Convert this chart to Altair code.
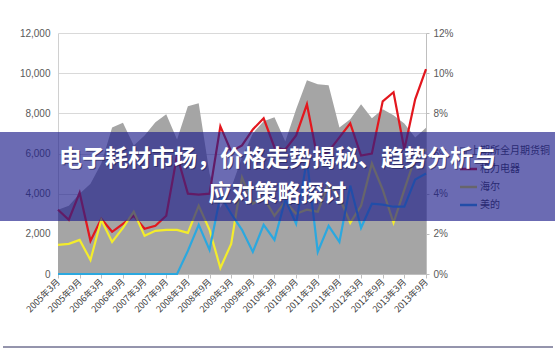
import altair as alt
import pandas as pd

# ---- data (quarterly) ----
quarters = [f"{y}年{m}月" for y in range(2005, 2014) for m in (3, 6, 9, 12)][:35]
axis_labels = [f"{y}年{m}月" for y in range(2005, 2014) for m in (3, 9)]

copper = [3200, 3400, 4000, 4500, 5500, 7300, 7530, 6400, 6900, 7550,
          7950, 6700, 8350, 8500, 5000, 3300, 4300, 5800, 7000, 7600,
          7800, 6600, 8200, 9650, 9450, 9400, 7300, 7700, 8450, 7750,
          8200, 7900, 7500, 6800, 7280]
gree = [3.2, 2.7, 4.05, 1.65, 2.75, 2.1, 2.5, 2.9, 2.25, 2.4,
        2.9, 5.9, 4.0, 3.95, 4.0, 7.35, 6.1, 6.4, 7.2, 7.75,
        6.3, 6.2, 6.9, 8.45, 5.7, 6.1, 6.8, 7.5, 5.9, 6.0,
        8.6, 9.05, 6.2, 8.7, 10.2]
haier = [1.45, 1.5, 1.7, 0.7, 2.7, 1.6, 2.3, 3.1, 1.9, 2.15,
         2.2, 2.2, 2.05, 3.4, 2.2, 0.3, 1.5, 4.8, 3.5, 3.8,
         2.9, 3.6, 3.0, 3.2, 3.1, 4.5, 3.8, 2.55, 3.4, 5.5,
         4.2, 2.55, 4.2, 5.8, 6.2]
midea = [0, 0, 0, 0, 0, 0, 0, 0, 0, 0,
         0, 0, 1.15, 2.45, 1.2, 3.9, 3.0, 2.2, 1.1, 2.45,
         1.7, 3.7, 2.5, 5.7, 1.1, 2.4, 1.6, 4.4, 2.3, 3.5,
         3.45, 3.35, 3.35, 4.7, 5.0]

series_names = ["上期所全月期货铜", "格力电器", "海尔", "美的"]
series_colors = ["#a5a5a5", "#e3171e", "#f3ec2c", "#2ba8df"]

title_lines = ["电子耗材市场，价格走势揭秘、趋势分析与", "应对策略探讨"]

# ---- tables ----
df = pd.DataFrame({"q": quarters, "copper": copper})
lines = pd.concat([
    pd.DataFrame({"q": quarters, "value": [v / 100 for v in vals], "series": name})
    for name, vals in zip(series_names[1:], [gree, haier, midea])
])

W, H = 368, 241
xenc = alt.X("q:O", sort=quarters,
             scale=alt.Scale(type="point", padding=0),
             axis=alt.Axis(values=axis_labels, title=None, labelAngle=-45,
                           labelAlign="right", labelBaseline="middle",
                           labelFontSize=9, labelColor="#404040", labelFont="Noto Sans CJK SC",
                           labelPadding=2, tickSize=4, tickColor="#bfbfbf",
                           domainColor="#bfbfbf", grid=False, zindex=0))

area = alt.Chart(df).mark_area(color="#a5a5a5", opacity=1).encode(
    x=xenc,
    y=alt.Y("copper:Q", scale=alt.Scale(domain=[0, 12000], nice=False),
            axis=alt.Axis(values=[0, 2000, 4000, 6000, 8000, 10000, 12000], format=",.0f",
                          title=None, orient="left", labelFontSize=10, labelColor="#595959",
                          labelFont="Liberation Sans", ticks=False, labelPadding=8,
                          domainColor="#d0d0d0", gridColor="#d9d9d9", grid=True, zindex=0)),
)

line = alt.Chart(lines).mark_line(strokeWidth=2.2).encode(
    x=xenc,
    y=alt.Y("value:Q", scale=alt.Scale(domain=[0, 0.12], nice=False),
            axis=alt.Axis(values=[0, 0.02, 0.04, 0.06, 0.08, 0.10, 0.12], format=".0%",
                          title=None, orient="right", labelFontSize=10, labelColor="#595959",
                          labelFont="Liberation Sans", tickSize=3, tickColor="#bfbfbf",
                          domainColor="#bfbfbf", grid=False, labelPadding=4, zindex=0)),
    color=alt.Color("series:N", scale=alt.Scale(domain=series_names, range=series_colors),
                    legend=None),
    order=alt.Order("series:N"),
)

one = pd.DataFrame({"a": [0]})

# manual legend (sits under the banner)
legend_layers = []
for k, (name, col) in enumerate(zip(series_names, series_colors)):
    yy = 118 + k * 18
    if k == 0:
        legend_layers.append(
            alt.Chart(one).mark_rect(color=col).encode(
                x=alt.value(402), x2=alt.value(409), y=alt.value(yy - 4), y2=alt.value(yy + 4)))
        tx = 412
    else:
        legend_layers.append(
            alt.Chart(one).mark_rule(color=col, strokeWidth=2.5).encode(
                x=alt.value(402), x2=alt.value(419), y=alt.value(yy)))
        tx = 422
    legend_layers.append(
        alt.Chart(one).mark_text(align="left", baseline="middle", fontSize=10,
                                 font="Noto Sans CJK SC", color="#404040").encode(
            x=alt.value(tx), y=alt.value(yy), text=alt.value(name)))

banner = alt.Chart(one).mark_rect(color="#1e1e8c", opacity=0.66).encode(
    x=alt.value(-58), x2=alt.value(497), y=alt.value(99), y2=alt.value(188))

title_layers = []
for k, t in enumerate(title_lines):
    yy = 126 + k * 35
    title_layers.append(
        alt.Chart(one).mark_text(align="center", baseline="middle", fontSize=23,
                                 fontWeight="bold", font="Noto Sans CJK SC",
                                 color="#1a1a50", opacity=0.6, dx=1, dy=1).encode(
            x=alt.value(219.5), y=alt.value(yy), text=alt.value(t)))
    title_layers.append(
        alt.Chart(one).mark_text(align="center", baseline="middle", fontSize=23,
                                 fontWeight="bold", font="Noto Sans CJK SC",
                                 color="#ffffff").encode(
            x=alt.value(219.5), y=alt.value(yy), text=alt.value(t)))

bottom_rule = alt.Chart(one).mark_rule(color="#2a2a5a", strokeWidth=1).encode(
    x=alt.value(-55), x2=alt.value(495), y=alt.value(314))

chart = alt.layer(area, line, *legend_layers, banner, *title_layers, bottom_rule).resolve_scale(
    y="independent", color="independent"
).properties(
    width=W, height=H,
    padding={"left": 58, "top": 33, "right": 129, "bottom": 80},
    autosize=alt.AutoSizeParams(type="none"),
    background="white",
).configure_view(stroke=None)

chart.save("out.html", embed_options={"renderer": "svg", "actions": False})
